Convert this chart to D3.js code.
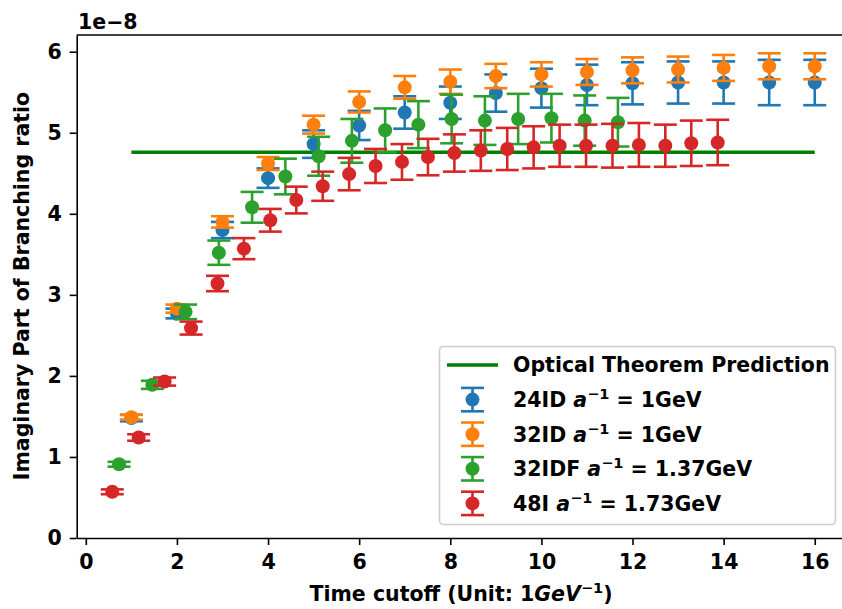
<!DOCTYPE html>
<html>
<head>
<meta charset="utf-8">
<script src="https://cdn.jsdelivr.net/npm/d3@7"></script>
<style>
  body { margin: 0; background: #fff; }
  svg { display: block; }
  text { font-family: "DejaVu Sans", sans-serif; font-weight: bold; fill: #000; }
</style>
</head>
<body>
<div id="chart"></div>
<script>
// optical theorem prediction (horizontal line)
const predictionValue = 4.76;
const predictionRange = [1, 16];

// 24ID, a^-1 = 1 GeV
const t24ID = [1, 2, 3, 4, 5, 6, 7, 8, 9, 10, 11, 12, 13, 14, 15, 16];
const y24ID = [1.48, 2.77, 3.80, 4.44, 4.86, 5.09, 5.25, 5.37, 5.49, 5.55, 5.59, 5.61, 5.62, 5.62, 5.62, 5.62];
const e24ID = [0.04, 0.06, 0.10, 0.12, 0.17, 0.18, 0.20, 0.20, 0.23, 0.24, 0.25, 0.26, 0.26, 0.26, 0.28, 0.28];

// 32ID, a^-1 = 1 GeV
const t32ID = [1, 2, 3, 4, 5, 6, 7, 8, 9, 10, 11, 12, 13, 14, 15, 16];
const y32ID = [1.49, 2.83, 3.90, 4.62, 5.10, 5.38, 5.56, 5.63, 5.70, 5.72, 5.75, 5.77, 5.78, 5.80, 5.82, 5.82];
const e32ID = [0.03, 0.05, 0.07, 0.08, 0.11, 0.13, 0.14, 0.15, 0.15, 0.15, 0.16, 0.16, 0.16, 0.16, 0.16, 0.16];

// 32IDF, a^-1 = 1.37 GeV
const t32IDF = [0.73, 1.46, 2.19, 2.92, 3.65, 4.38, 5.11, 5.84, 6.57, 7.30, 8.03, 8.76, 9.49, 10.22, 10.95, 11.68];
const y32IDF = [0.91, 1.89, 2.79, 3.52, 4.08, 4.46, 4.71, 4.90, 5.03, 5.10, 5.17, 5.15, 5.17, 5.18, 5.15, 5.13];
const e32IDF = [0.03, 0.05, 0.09, 0.15, 0.19, 0.22, 0.24, 0.27, 0.27, 0.29, 0.30, 0.30, 0.31, 0.30, 0.31, 0.30];

// 48I, a^-1 = 1.73 GeV
const t48I = [0.58, 1.16, 1.73, 2.31, 2.89, 3.47, 4.05, 4.62, 5.20, 5.78, 6.36, 6.94, 7.51, 8.09, 8.67, 9.25, 9.83, 10.40, 10.98, 11.56, 12.14, 12.72, 13.29, 13.87];
const y48I = [0.57, 1.24, 1.93, 2.59, 3.14, 3.57, 3.92, 4.17, 4.34, 4.49, 4.59, 4.64, 4.70, 4.75, 4.78, 4.80, 4.82, 4.84, 4.84, 4.84, 4.85, 4.84, 4.87, 4.88];
const e48I = [0.03, 0.04, 0.05, 0.08, 0.095, 0.13, 0.14, 0.165, 0.18, 0.20, 0.21, 0.22, 0.225, 0.23, 0.25, 0.26, 0.26, 0.26, 0.26, 0.27, 0.27, 0.26, 0.28, 0.28];

const xTicks = [0, 2, 4, 6, 8, 10, 12, 14, 16];
const yTicks = [0, 1, 2, 3, 4, 5, 6];

const series = [
    { name: "24ID", a: "1GeV", color: "#1f77b4", t: t24ID, y: y24ID, e: e24ID },
    { name: "32ID", a: "1GeV", color: "#ff7f0e", t: t32ID, y: y32ID, e: e32ID },
    { name: "32IDF", a: "1.37GeV", color: "#2ca02c", t: t32IDF, y: y32IDF, e: e32IDF },
    { name: "48I", a: "1.73GeV", color: "#d62728", t: t48I, y: y48I, e: e48I }
];

const width = 842;
const height = 609;
const fontSize = 20.5;
const capHalf = 11.5;
const radius = 7;

const svg = d3.select("#chart")
    .append("svg")
    .attr("width", width)
    .attr("height", height);

const x = d3.scaleLinear()
    .domain([-0.2, 16.8])
    .range([76.7, 851.2]);

const y = d3.scaleLinear()
    .domain([0, 6.206])
    .range([538, 35]);

// prediction line under the points
svg.append("line")
    .attr("x1", x(predictionRange[0]))
    .attr("x2", x(predictionRange[1]))
    .attr("y1", y(predictionValue))
    .attr("y2", y(predictionValue))
    .attr("stroke", "#008000")
    .attr("stroke-width", 3.5);

function drawErrorbar(g, cx, cy, top, bottom, color) {
    g.append("line")
        .attr("x1", cx).attr("x2", cx)
        .attr("y1", top).attr("y2", bottom)
        .attr("stroke", color).attr("stroke-width", 2.6);
    [top, bottom].forEach(v => {
        g.append("line")
            .attr("x1", cx - capHalf).attr("x2", cx + capHalf)
            .attr("y1", v).attr("y2", v)
            .attr("stroke", color).attr("stroke-width", 2.6);
    });
    g.append("circle")
        .attr("cx", cx).attr("cy", cy)
        .attr("r", radius)
        .attr("fill", color);
}

series.forEach(s => {
    const g = svg.append("g");
    const pts = s.t.map((t, i) => ({ t: t, v: s.y[i], e: s.e[i] }));
    const bars = g.append("g");
    pts.forEach(p => {
        bars.append("line")
            .attr("x1", x(p.t)).attr("x2", x(p.t))
            .attr("y1", y(p.v + p.e)).attr("y2", y(p.v - p.e))
            .attr("stroke", s.color).attr("stroke-width", 2.6);
        [p.v + p.e, p.v - p.e].forEach(v => {
            bars.append("line")
                .attr("x1", x(p.t) - capHalf).attr("x2", x(p.t) + capHalf)
                .attr("y1", y(v)).attr("y2", y(v))
                .attr("stroke", s.color).attr("stroke-width", 2.6);
        });
    });
    g.selectAll("circle")
        .data(pts)
        .join("circle")
        .attr("cx", d => x(d.t))
        .attr("cy", d => y(d.v))
        .attr("r", radius)
        .attr("fill", s.color);
});

// axes
const xAxis = svg.append("g")
    .attr("transform", "translate(0,538)")
    .call(d3.axisBottom(x).tickValues(xTicks).tickFormat(d3.format("d"))
        .tickSize(7).tickPadding(9).tickSizeOuter(0));

const yAxis = svg.append("g")
    .attr("transform", "translate(76.7,0)")
    .call(d3.axisLeft(y).tickValues(yTicks).tickFormat(d3.format("d"))
        .tickSize(7).tickPadding(8).tickSizeOuter(0));

[xAxis, yAxis].forEach(a => {
    a.selectAll("line").attr("stroke", "#000").attr("stroke-width", 1.6);
    a.select(".domain").attr("stroke", "#000").attr("stroke-width", 1.6);
    a.selectAll("text")
        .attr("fill", "#000")
        .style("font-family", "DejaVu Sans")
        .style("font-weight", "bold")
        .style("font-size", fontSize + "px");
});

// top and right spines
svg.append("line")
    .attr("x1", x.range()[0]).attr("x2", x.range()[1])
    .attr("y1", y.range()[1]).attr("y2", y.range()[1])
    .attr("stroke", "#000").attr("stroke-width", 1.6);
svg.append("line")
    .attr("x1", x.range()[1]).attr("x2", x.range()[1])
    .attr("y1", y.range()[0]).attr("y2", y.range()[1])
    .attr("stroke", "#000").attr("stroke-width", 1.6);

// offset text
svg.append("text")
    .attr("x", 78)
    .attr("y", 29)
    .style("font-size", fontSize + "px")
    .text("1e\u22128");

// axis labels
const xl = svg.append("text")
    .attr("x", 461)
    .attr("y", 601)
    .attr("text-anchor", "middle")
    .style("font-size", fontSize + "px");
xl.append("tspan").text("Time cutoff (Unit: 1");
xl.append("tspan").style("font-style", "italic").text("GeV");
xl.append("tspan").attr("dy", -8).style("font-size", "14.5px").text("\u22121");
xl.append("tspan").attr("dy", 8).text(")");

svg.append("text")
    .attr("transform", "translate(29,286) rotate(-90)")
    .attr("text-anchor", "middle")
    .style("font-size", fontSize + "px")
    .text("Imaginary Part of Branching ratio");

// legend
const legend = svg.append("g");
legend.append("rect")
    .attr("x", 439.5).attr("y", 346.5)
    .attr("width", 396).attr("height", 178)
    .attr("rx", 4)
    .attr("fill", "#fff").attr("fill-opacity", 0.8)
    .attr("stroke", "#cccccc").attr("stroke-width", 1.6);

const rowY = d => 365 + d * 34.6;
legend.append("line")
    .attr("x1", 447).attr("x2", 498)
    .attr("y1", rowY(0)).attr("y2", rowY(0))
    .attr("stroke", "#008000").attr("stroke-width", 3.5);
legend.append("text")
    .attr("x", 513).attr("y", rowY(0))
    .attr("dy", "0.36em")
    .style("font-size", fontSize + "px")
    .text("Optical Theorem Prediction");

series.forEach((s, i) => {
    const cy = rowY(i + 1);
    drawErrorbar(legend, 472.5, cy, cy - 11.7, cy + 11.7, s.color);
    const t = legend.append("text")
        .attr("x", 513).attr("y", cy)
        .attr("dy", "0.36em")
        .style("font-size", fontSize + "px");
    t.append("tspan").text(s.name + " ");
    t.append("tspan").style("font-style", "italic").text("a");
    t.append("tspan").attr("dy", -8).style("font-size", "14.5px").text("\u22121");
    t.append("tspan").attr("dy", 8).text(" = " + s.a);
});
</script>
</body>
</html>
